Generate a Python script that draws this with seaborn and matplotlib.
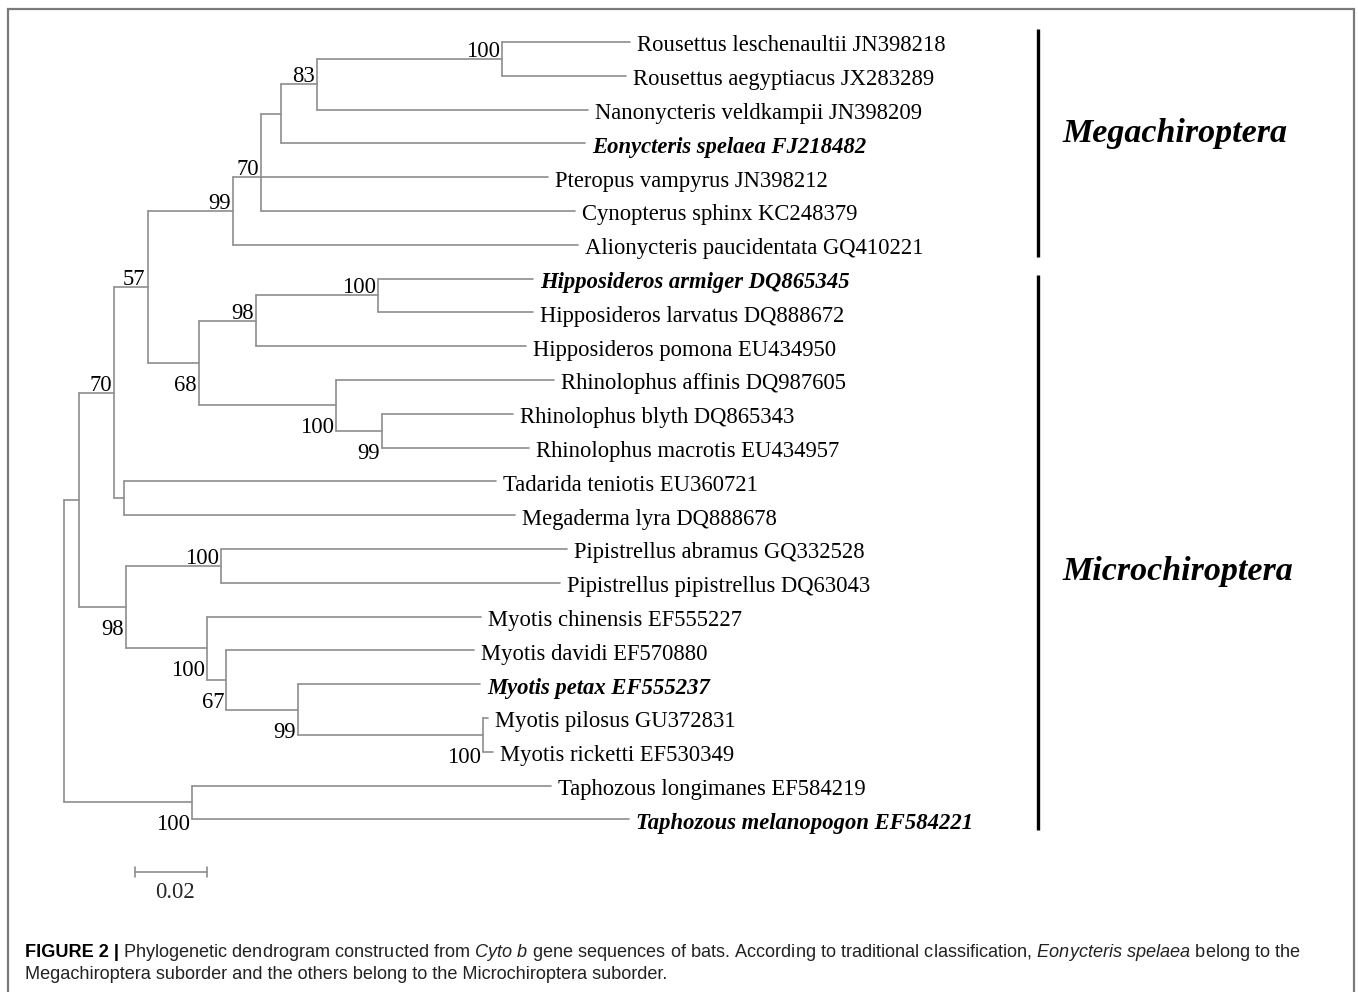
import matplotlib
matplotlib.use("Agg")
import matplotlib.pyplot as plt
from matplotlib.patches import Rectangle
import numpy as np
import pandas as pd
import seaborn as sns

# ---------------- data ----------------
taxa = [
    "Rousettus leschenaultii JN398218",
    "Rousettus aegyptiacus JX283289",
    "Nanonycteris veldkampii JN398209",
    "Eonycteris spelaea FJ218482",
    "Pteropus vampyrus JN398212",
    "Cynopterus sphinx KC248379",
    "Alionycteris paucidentata GQ410221",
    "Hipposideros armiger DQ865345",
    "Hipposideros larvatus DQ888672",
    "Hipposideros pomona EU434950",
    "Rhinolophus affinis DQ987605",
    "Rhinolophus blyth DQ865343",
    "Rhinolophus macrotis EU434957",
    "Tadarida teniotis EU360721",
    "Megaderma lyra DQ888678",
    "Pipistrellus abramus GQ332528",
    "Pipistrellus pipistrellus DQ63043",
    "Myotis chinensis EF555227",
    "Myotis davidi EF570880",
    "Myotis petax EF555237",
    "Myotis pilosus GU372831",
    "Myotis ricketti EF530349",
    "Taphozous longimanes EF584219",
    "Taphozous melanopogon EF584221",
]
highlighted = [3, 7, 19, 23]
# distance from root (substitutions/site) of each leaf tip
leaf_depth = [0.1572, 0.1561, 0.1456, 0.1447, 0.1344, 0.1419, 0.1428,
              0.1303, 0.1303, 0.1283, 0.1361, 0.1247, 0.1292, 0.1200,
              0.1253, 0.1397, 0.1378, 0.1158, 0.1139, 0.1156, 0.1178,
              0.1192, 0.1353, 0.1569]

# internal nodes (children listed before parents)
node_names = ["rous", "n83", "eony", "n70a", "n99", "hip100", "hip98",
              "rh99", "rh100", "n68", "n57", "tm", "n70b", "pip",
              "my100b", "my99", "my67", "my100", "ves98", "nx", "tap", "root"]
node_children = [[0, 1], ["rous", 2], ["n83", 3], ["eony", 4, 5], ["n70a", 6],
                 [7, 8], ["hip100", 9], [11, 12], [10, "rh99"], ["hip98", "rh100"],
                 ["n99", "n68"], [13, 14], ["n57", "tm"], [15, 16],
                 [20, 21], [19, "my100b"], [18, "my99"], [17, "my67"],
                 ["pip", "my100"], ["n70b", "ves98"], [22, 23], ["nx", "tap"]]
node_depth = [0.1217, 0.0703, 0.0603, 0.0547, 0.0469, 0.0872, 0.0533,
              0.0883, 0.0756, 0.0375, 0.0232, 0.0166, 0.0138, 0.0436,
              0.1164, 0.0650, 0.0451, 0.0397, 0.0172, 0.0042, 0.0356, 0.0]
node_support = [100, 83, None, 70, 99, 100, 98, 99, 100, 68, 57, None, 70, 100,
                100, 99, 67, 100, 98, None, 100, None]
support_side = ["above", "above", None, "above", "above", "above", "above",
                "below", "below", "below", "above", None, "above", "above",
                "below", "below", "below", "below", "below", None, "below", None]

groups = ["Megachiroptera", "Microchiroptera"]
group_first_leaf = [0, 7]
group_last_leaf = [6, 23]
scale_length = 0.02
scale_label = "0.02"

caption_bold = "FIGURE 2 |"
caption_line1 = (r"Phylogenetic dendrogram constructed from $\mathit{Cyto\ b}$ gene sequences "
                 r"of bats. According to traditional classification, "
                 r"$\mathit{Eonycteris\ spelaea}$ belong to the")
caption_line2 = "Megachiroptera suborder and the others belong to the Microchiroptera suborder."

# ---------------- layout ----------------
W, H = 1358, 992
PX_PER_UNIT = 3600.0
ROOT_PX = 64.0
ROW0_PX = 42.0
ROW_PX = 33.8
PT = 0.72  # points per pixel at dpi 100

sns.set_theme(style="white")
plt.rcParams["font.family"] = ["Liberation Serif", "DejaVu Serif"]
plt.rcParams["mathtext.fontset"] = "custom"
plt.rcParams["mathtext.rm"] = "Liberation Sans"
plt.rcParams["mathtext.it"] = "Liberation Sans:italic"
plt.rcParams["mathtext.bf"] = "Liberation Sans:bold"

fig = plt.figure(figsize=(W / 100, H / 100), dpi=100)
ax = fig.add_axes([0, 0, 1, 1])

# compute node coordinates
depth = {i: leaf_depth[i] for i in range(len(taxa))}
ypos = {i: float(i) for i in range(len(taxa))}
for name, ch, d in zip(node_names, node_children, node_depth):
    depth[name] = d
    ys = [ypos[c] for c in ch]
    ypos[name] = ys[len(ys) // 2] if len(ys) % 2 else (ys[0] + ys[-1]) / 2

rows = []
seg = 0
for name, ch in zip(node_names, node_children):
    d = depth[name]
    ys = [ypos[c] for c in ch]
    rows += [(seg, d, min(ys)), (seg, d, max(ys))]
    seg += 1
    for c in ch:
        rows += [(seg, d, ypos[c]), (seg, depth[c], ypos[c])]
        seg += 1
segs = pd.DataFrame(rows, columns=["seg", "x", "y"])

tree_color = "#8e8e8e"
sns.lineplot(data=segs, x="x", y="y", units="seg", estimator=None, sort=False,
             color=tree_color, lw=1.2, ax=ax, legend=False)

fs = 16.3
for i, name in enumerate(taxa):
    hl = i in highlighted
    ax.annotate(name, (leaf_depth[i], i), xytext=(7 * PT, -9.5 * PT),
                textcoords="offset points", ha="left", va="baseline",
                fontsize=fs, color="black",
                fontweight="bold" if hl else "normal",
                fontstyle="italic" if hl else "normal")

for name, s, side in zip(node_names, node_support, support_side):
    if s is None:
        continue
    dy = 2.0 if side == "above" else -28.0
    ax.annotate(str(s), (depth[name], ypos[name]), xytext=(-2 * PT, dy * PT),
                textcoords="offset points", ha="right", va="baseline",
                fontsize=fs, color="black")

# scale bar
sb_x0 = (135 - ROOT_PX) / PX_PER_UNIT
sb_y = (872 - ROW0_PX) / ROW_PX
tick = 5 / ROW_PX
sb = pd.DataFrame({"seg": [0, 0, 1, 1, 2, 2],
                   "x": [sb_x0, sb_x0 + scale_length, sb_x0, sb_x0,
                         sb_x0 + scale_length, sb_x0 + scale_length],
                   "y": [sb_y, sb_y, sb_y - tick, sb_y + tick, sb_y - tick, sb_y + tick]})
sns.lineplot(data=sb, x="x", y="y", units="seg", estimator=None, sort=False,
             color=tree_color, lw=1.2, ax=ax, legend=False)
ax.annotate(scale_label, (sb_x0 + scale_length / 2, sb_y), xytext=(4 * PT, -26 * PT),
            textcoords="offset points", ha="center", va="baseline", fontsize=fs)

# group bars
bar_x = (1038 - ROOT_PX) / PX_PER_UNIT
bar_pad_top = [0.38, 0.11]
bar_pad_bot = [0.36, 0.31]
label_row = [2.95, 15.92]
lab_x = (1062 - ROOT_PX) / PX_PER_UNIT
for g, a, b, pt_, pb, lr in zip(groups, group_first_leaf, group_last_leaf,
                                 bar_pad_top, bar_pad_bot, label_row):
    ax.plot([bar_x, bar_x], [a - pt_, b + pb], color="black", lw=2.4,
            solid_capstyle="butt")
    ax.text(lab_x, lr, g, ha="left", va="baseline", fontsize=24.5,
            fontweight="bold", fontstyle="italic", color="black")

ax.set_xlim(-ROOT_PX / PX_PER_UNIT, (W - ROOT_PX) / PX_PER_UNIT)
ax.set_ylim((H - ROW0_PX) / ROW_PX, -ROW0_PX / ROW_PX)
ax.axis("off")

# border
fig.add_artist(Rectangle((8 / W, -0.02), (1354 - 8) / W, 1 - 9 / H + 0.02,
                         transform=fig.transFigure, fill=False,
                         ec="#7a7a7a", lw=1.6))

# caption
cap_fs = 13.1
t1 = fig.text(25 / W, 1 - 957 / H, caption_bold, ha="left", va="baseline",
              fontsize=cap_fs, family="Liberation Sans", fontweight="bold",
              color="black")
renderer = fig.canvas.get_renderer()
bb = t1.get_window_extent(renderer)
fig.text((bb.x1 + 4) / W, 1 - 957 / H, caption_line1, ha="left", va="baseline",
         fontsize=cap_fs, family="Liberation Sans", color="#222222")
fig.text(25 / W, 1 - 979 / H, caption_line2, ha="left", va="baseline",
         fontsize=cap_fs, family="Liberation Sans", color="#222222")

fig.savefig("out.png", dpi=100)
